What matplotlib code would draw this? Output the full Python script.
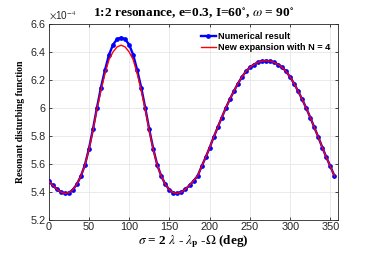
import matplotlib
matplotlib.use("Agg")
import matplotlib.pyplot as plt
import numpy as np

# sigma in degrees, values in units of 1e-4
sigma_deg = list(range(0, 360, 5))

numerical = [
    5.477, 5.445, 5.418, 5.398, 5.387, 5.392, 5.413, 5.452, 5.510, 5.590,
    5.705, 5.845, 6.000, 6.145, 6.270, 6.380, 6.452, 6.491, 6.503, 6.491,
    6.452, 6.380, 6.270, 6.145, 6.000, 5.845, 5.705, 5.590, 5.510, 5.452,
    5.413, 5.392, 5.387, 5.398, 5.418, 5.445, 5.477, 5.512, 5.580, 5.645,
    5.715, 5.790, 5.860, 5.930, 5.998, 6.060, 6.118, 6.172, 6.220, 6.260,
    6.290, 6.310, 6.326, 6.334, 6.336, 6.334, 6.326, 6.310, 6.290, 6.260,
    6.220, 6.172, 6.118, 6.060, 5.998, 5.930, 5.860, 5.790, 5.715, 5.645,
    5.580, 5.512,
]

expansion = [
    5.477, 5.445, 5.418, 5.398, 5.387, 5.392, 5.413, 5.452, 5.510, 5.588,
    5.700, 5.835, 5.990, 6.125, 6.245, 6.345, 6.400, 6.436, 6.448, 6.436,
    6.400, 6.345, 6.245, 6.125, 5.990, 5.835, 5.700, 5.588, 5.510, 5.452,
    5.413, 5.392, 5.387, 5.398, 5.418, 5.445, 5.477, 5.512, 5.580, 5.645,
    5.715, 5.790, 5.860, 5.930, 5.998, 6.060, 6.118, 6.172, 6.220, 6.260,
    6.290, 6.310, 6.326, 6.334, 6.336, 6.334, 6.326, 6.310, 6.290, 6.260,
    6.220, 6.172, 6.118, 6.060, 5.998, 5.930, 5.860, 5.790, 5.715, 5.645,
    5.580, 5.512,
]

x_ticks = [0, 50, 100, 150, 200, 250, 300, 350]
y_ticks = [5.2, 5.4, 5.6, 5.8, 6.0, 6.2, 6.4, 6.6]
y_tick_labels = ["5.2", "5.4", "5.6", "5.8", "6", "6.2", "6.4", "6.6"]

axis_gray = "#262626"
serif = ["Liberation Serif", "DejaVu Serif"]
sans = ["Liberation Sans", "DejaVu Sans"]
plt.rcParams["mathtext.fontset"] = "stix"

fig = plt.figure(figsize=(3.74, 2.58), dpi=100)
ax = fig.add_axes([0.130, 0.149, 0.775, 0.758])

ax.plot(sigma_deg, numerical, color="blue", lw=1.7, marker="o", ms=2.4,
        mec="blue", mfc="blue", label="Numerical result", zorder=3)
ax.plot(sigma_deg, expansion, color="red", lw=1.0,
        label="New expansion with N = 4", zorder=4)

ax.set_xlim(0, 360)
ax.set_ylim(5.2, 6.6)
ax.set_xticks(x_ticks)
ax.set_yticks(y_ticks)
ax.set_yticklabels(y_tick_labels)

ax.grid(True, color="#e6e6e6", lw=0.6)
ax.set_axisbelow(True)
for sp in ax.spines.values():
    sp.set_color(axis_gray)
    sp.set_linewidth(0.6)
ax.tick_params(direction="in", length=2.5, width=0.6, colors=axis_gray,
               top=True, right=True, labelsize=7.8, pad=2)
for lab in ax.get_xticklabels() + ax.get_yticklabels():
    lab.set_family(sans)

ax.text(0.0, 1.012, r"$\times$10$^{-4}$", transform=ax.transAxes,
        fontsize=7.2, color=axis_gray, family=sans, va="bottom", ha="left")

ax.set_title(r"1:2 resonance, e=0.3, I=60$^{\circ}$, $\omega$ = 90$^{\circ}$",
             family=serif, fontweight="bold", fontsize=9.6, pad=5)
ax.set_xlabel(r"$\sigma$ = 2 $\lambda$ - $\lambda_{\mathbf{p}}$ -$\Omega$ (deg)",
              family=serif, fontweight="bold", fontsize=9.5, labelpad=1)
ax.set_ylabel("Resonant disturbing function", family=serif,
              fontweight="bold", fontsize=7, labelpad=4)

leg = ax.legend(loc="upper right", frameon=False,
                handlelength=1.6, handletextpad=0.3, labelspacing=0.25,
                borderaxespad=0.45,
                prop={"family": sans, "weight": "bold", "size": 6.6})

fig.savefig("out.png", dpi=100)
